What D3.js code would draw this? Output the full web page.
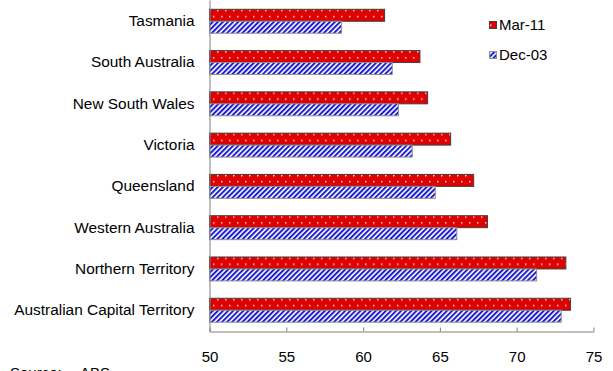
<!DOCTYPE html>
<html>
<head>
<meta charset="utf-8">
<script src="https://cdn.jsdelivr.net/npm/d3@7"></script>
<style>
  body { margin: 0; background: #fff; }
  svg { display: block; font-family: "Liberation Sans", Arial, sans-serif; }
</style>
</head>
<body>
<div class="vis"></div>
<script>
const states = ['Tasmania', 'South Australia', 'New South Wales', 'Victoria',
    'Queensland', 'Western Australia', 'Northern Territory', 'Australian Capital Territory'];
const series = ['Mar-11', 'Dec-03'];
const mar11 = [61.4, 63.7, 64.2, 65.7, 67.2, 68.1, 73.2, 73.5];
const dec03 = [58.6, 61.9, 62.3, 63.2, 64.7, 66.1, 71.3, 72.9];
const xTicks = [50, 55, 60, 65, 70, 75];

const W = 613, H = 371;
const plot = {left: 209.5, right: 593.5, top: 0, bottom: 331.5};

const svg = d3.select('.vis').append('svg')
    .attr('width', W)
    .attr('height', H);

// fill patterns
const defs = svg.append('defs');
const dots = defs.append('pattern')
    .attr('id', 'dots')
    .attr('patternUnits', 'userSpaceOnUse')
    .attr('x', 0)
    .attr('y', 0.5)
    .attr('width', 8)
    .attr('height', 12);
dots.append('rect').attr('width', 8).attr('height', 12).attr('fill', '#e00000');
dots.append('rect').attr('x', 1).attr('y', 0).attr('width', 1.5).attr('height', 1.5).attr('fill', '#ffdada');
dots.append('rect').attr('x', 5).attr('y', 6).attr('width', 1.5).attr('height', 1.5).attr('fill', '#ffdada');

const stripes = defs.append('pattern')
    .attr('id', 'stripes')
    .attr('patternUnits', 'userSpaceOnUse')
    .attr('width', 3.6)
    .attr('height', 3.6)
    .attr('patternTransform', 'rotate(45)');
stripes.append('rect').attr('width', 3.6).attr('height', 3.6).attr('fill', '#ffffff');
stripes.append('rect').attr('width', 2).attr('height', 3.6).attr('fill', '#1c1cd0');

const fills = {'Mar-11': 'url(#dots)', 'Dec-03': 'url(#stripes)'};
const strokes = {'Mar-11': '#404040', 'Dec-03': '#909090'};

const x = d3.scaleLinear()
    .domain([50, 75])
    .range([plot.left, plot.right]);

const y = d3.scaleBand()
    .domain(states)
    .range([plot.top, plot.bottom])
    .paddingInner(0.42)
    .paddingOuter(0.225);

const y1 = d3.scaleBand()
    .domain(series)
    .range([0, y.bandwidth()]);

const dataset = states.map((s, i) => ({
    state: s,
    values: [
        {key: 'Mar-11', value: mar11[i]},
        {key: 'Dec-03', value: dec03[i]}
    ]
}));

// bars
const groups = svg.selectAll('.grp')
    .data(dataset)
    .enter().append('g')
    .attr('class', 'grp')
    .attr('transform', d => 'translate(0,' + y(d.state) + ')');

groups.selectAll('rect')
    .data(d => d.values)
    .enter().append('rect')
    .attr('x', x(50))
    .attr('y', d => y1(d.key))
    .attr('width', d => x(d.value) - x(50))
    .attr('height', y1.bandwidth())
    .attr('fill', d => fills[d.key])
    .attr('stroke', d => strokes[d.key])
    .attr('stroke-width', 1);

// x axis
const xAxis = svg.append('g')
    .attr('transform', 'translate(0,' + plot.bottom + ')')
    .call(d3.axisBottom(x).tickValues(xTicks).tickSizeInner(-4).tickSizeOuter(0).tickPadding(20));
xAxis.select('.domain').attr('stroke', '#808080');
xAxis.selectAll('.tick line').attr('stroke', '#808080');
xAxis.selectAll('text').attr('font-size', 15).attr('fill', '#000')
    .attr('font-family', '"Liberation Sans", Arial, sans-serif');

// y axis
const yAxis = svg.append('g')
    .attr('transform', 'translate(' + plot.left + ',0)')
    .call(d3.axisLeft(y).tickSize(0).tickPadding(15));
yAxis.select('.domain').attr('stroke', '#808080');
yAxis.selectAll('text').attr('font-size', 15.4).attr('fill', '#000')
    .attr('font-family', '"Liberation Sans", Arial, sans-serif');

// legend
const legend = svg.append('g')
    .attr('transform', 'translate(489,0)');
const legendY = [25, 55];
series.forEach((s, i) => {
    legend.append('rect')
        .attr('x', 0.5)
        .attr('y', legendY[i] - 3.5)
        .attr('width', 7)
        .attr('height', 7)
        .attr('fill', fills[s])
        .attr('stroke', strokes[s]);
    legend.append('text')
        .attr('x', 10)
        .attr('y', legendY[i])
        .attr('dy', '0.35em')
        .attr('font-size', 15)
        .text(s);
});

// source note, cut off at the bottom edge as in the original
svg.append('text').attr('x', 10).attr('y', 378).attr('font-size', 15).text('Source:');
svg.append('text').attr('x', 80).attr('y', 378).attr('font-size', 15).text('ABS');
</script>
</body>
</html>
